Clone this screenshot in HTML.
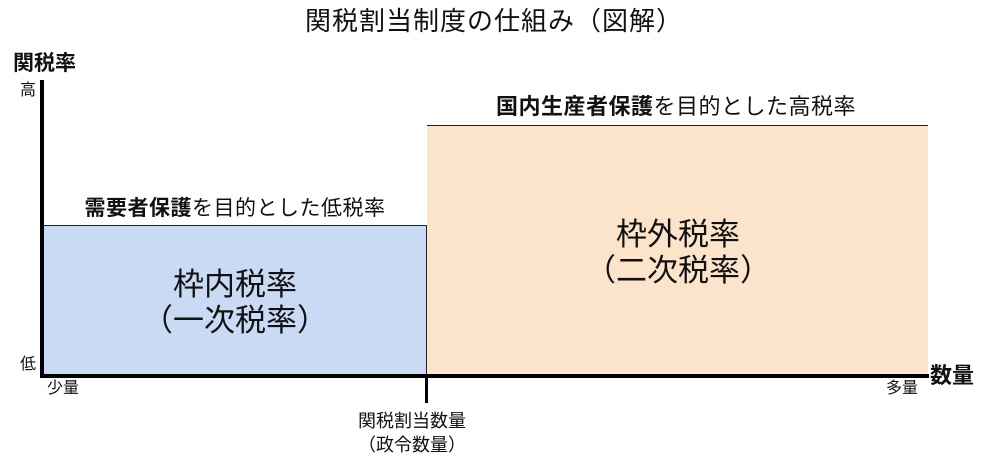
<!DOCTYPE html>
<html><head><meta charset="utf-8"><style>
body{margin:0;width:985px;height:467px;background:#fff;position:relative;overflow:hidden;font-family:"Liberation Sans","Noto Sans CJK JP",sans-serif;color:#111}
.t{position:absolute;white-space:nowrap;line-height:1}
.c{transform:translateX(-50%);text-align:center}
</style></head><body>
<div class="t c" style="left:494px;top:8px;font-size:26px;letter-spacing:1px">関税割当制度の仕組み（図解）</div>
<div class="t" style="left:13px;top:53px;font-size:21px;font-weight:bold">関税率</div>
<div class="t" style="left:20px;top:83px;font-size:16px">高</div>
<div class="t" style="left:20px;top:357px;font-size:16px">低</div>
<div class="t" style="left:47px;top:381px;font-size:16px">少量</div>
<div class="t" style="left:886px;top:381px;font-size:16px">多量</div>
<div class="t" style="left:930px;top:365px;font-size:22px;font-weight:bold">数量</div>
<div style="position:absolute;left:43px;top:225px;width:384px;height:150px;background:#c9daf5;border-top:1.5px solid #222;border-right:1.5px solid #222;box-sizing:border-box"></div>
<div style="position:absolute;left:427px;top:125px;width:501px;height:250px;background:#fce4ca;border-top:1.5px solid #222;box-sizing:border-box"></div>
<div style="position:absolute;left:40px;top:80px;width:4px;height:298px;background:#000"></div>
<div style="position:absolute;left:40px;top:374px;width:889px;height:4px;background:#000"></div>
<div style="position:absolute;left:425px;top:374px;width:3px;height:29px;background:#000"></div>
<div class="t c" style="left:235px;top:198px;font-size:21px;letter-spacing:0.5px"><b>需要者保護</b>を目的とした低税率</div>
<div class="t c" style="left:676px;top:96px;font-size:22px;letter-spacing:0.5px"><b>国内生産者保護</b>を目的とした高税率</div>
<div class="t c" style="left:235px;top:267px;font-size:31px;line-height:36px">枠内税率<br>（一次税率）</div>
<div class="t c" style="left:678px;top:217px;font-size:31px;line-height:36px">枠外税率<br>（二次税率）</div>
<div class="t c" style="left:412px;top:409px;font-size:18px;line-height:24px">関税割当数量<br>（政令数量）</div>
</body></html>
